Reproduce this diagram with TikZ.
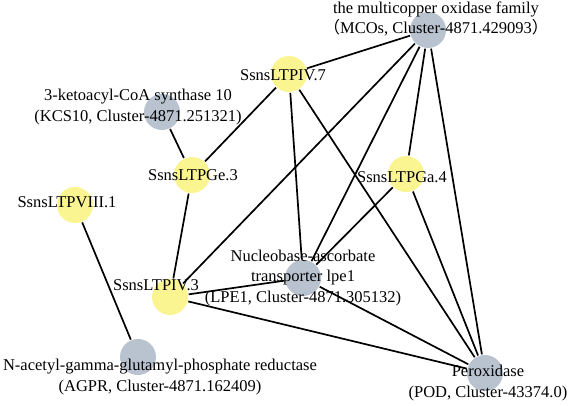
\documentclass[tikz,border=0pt]{standalone}
\usepackage{fontspec}
\setmainfont{Liberation Serif}
\newfontfamily\cjk{Noto Sans CJK SC}
\usepackage{tikz}
\definecolor{ltpyellow}{RGB}{250,245,145}
\definecolor{genegray}{RGB}{185,195,208}

\begin{document}
\begin{tikzpicture}[x=1pt, y=-1pt, line width=1.7pt,
  ltp/.style = {circle, fill=ltpyellow, minimum size=36pt, inner sep=0pt},
  gene/.style = {circle, fill=genegray, minimum size=36pt, inner sep=0pt},
  txt/.style = {align=center, inner sep=0pt, font=\fontsize{16.5}{20.5}\selectfont}]
\useasboundingbox (0,0) rectangle (570,405);
% circles
\node[gene] (mco) at (428,30) {};
\node[ltp] (iv7) at (289,74) {};
\node[gene] (kcs) at (162,112) {};
\node[ltp] (ge3) at (192,175) {};
\node[ltp] (ga4) at (406,174) {};
\node[ltp] (viii1) at (75,205) {};
\node[ltp] (iv3) at (170,297) {};
\node[gene] (lpe) at (303,278) {};
\node[gene] (agpr) at (138,357) {};
\node[gene] (pod) at (485,373) {};
% edges
\draw (kcs) -- (ge3);
\draw (ge3) -- (iv7);
\draw (ge3) -- (iv3);
\draw (iv7) -- (mco);
\draw (iv7) -- (lpe);
\draw (iv7) -- (pod);
\draw (mco) -- (iv3);
\draw (mco) -- (lpe);
\draw (mco) -- (ga4);
\draw (mco) -- (pod);
\draw (ga4) -- (lpe);
\draw (ga4) -- (pod);
\draw (iv3) -- (lpe);
\draw (iv3) -- (pod);
\draw (lpe) -- (pod);
\draw (viii1) -- (agpr);
% labels
\node[txt] (mcot) at (436,19) {the multicopper oxidase family\\{\cjk （}MCOs, Cluster-4871.429093{\cjk ）}};
\node[txt] (iv7t) at (283,75) {SsnsLTPIV.7};
\node[txt] (kcst) at (138,107) {3-ketoacyl-CoA synthase 10\\(KCS10, Cluster-4871.251321)};
\node[txt] (ge3t) at (193,175) {SsnsLTPGe.3};
\node[txt] (ga4t) at (402,177) {SsnsLTPGa.4};
\node[txt] (viii1t) at (67,202) {SsnsLTPVIII.1};
\node[txt] (iv3t) at (156,285) {SsnsLTPIV.3};
\node[txt] (lpet) at (303,278) {Nucleobase-ascorbate\\transporter lpe1\\(LPE1, Cluster-4871.305132)};
\node[txt] (agprt) at (160,377) {N-acetyl-gamma-glutamyl-phosphate reductase\\(AGPR, Cluster-4871.162409)};
\node[txt] (podt) at (488,383) {Peroxidase\\(POD, Cluster-43374.0)};
\end{tikzpicture}
\end{document}
